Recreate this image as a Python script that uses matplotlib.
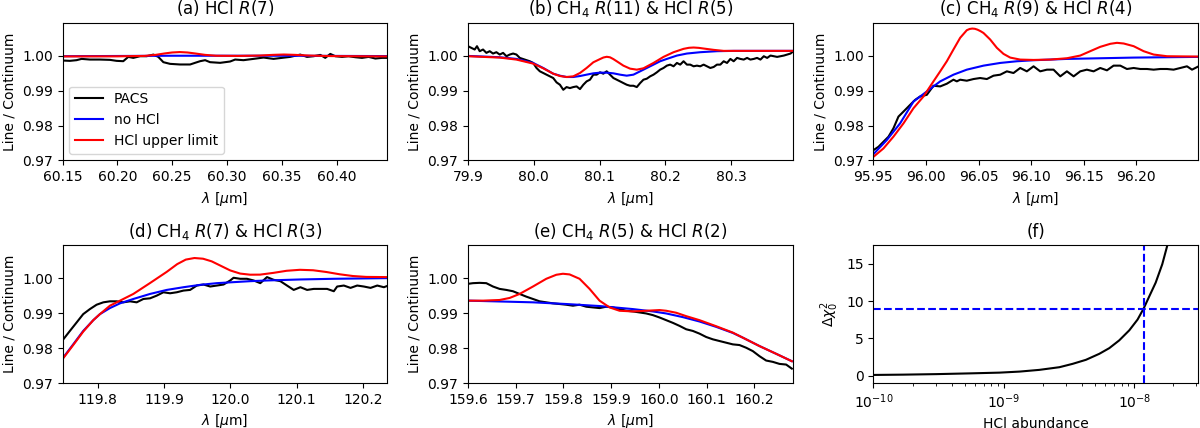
import numpy as np
import matplotlib
matplotlib.use('Agg')
import matplotlib.pyplot as plt
from matplotlib.ticker import FormatStrFormatter

# ---- (a) HCl R(7)
a_pacs_x = [60.1500, 60.1567, 60.1628, 60.1674, 60.1750, 60.1841, 60.1933, 60.1993, 60.2054, 60.2100,
            60.2146, 60.2207, 60.2268, 60.2329, 60.2374, 60.2420, 60.2481, 60.2572, 60.2664, 60.2709,
            60.2755, 60.2801, 60.2846, 60.2938, 60.3029, 60.3075, 60.3151, 60.3242, 60.3334, 60.3425,
            60.3501, 60.3577, 60.3669, 60.3730, 60.3791, 60.3852, 60.3897, 60.3943, 60.3989, 60.4050,
            60.4110, 60.4171, 60.4232, 60.4293, 60.4354, 60.4415, 60.4470]
a_pacs_y = [0.99858, 0.99849, 0.99868, 0.99905, 0.99886, 0.99886, 0.99877, 0.99849, 0.99839, 0.99962,
            0.99934, 0.99981, 0.99981, 1.00028, 0.99962, 0.99811, 0.99763, 0.99745, 0.99745, 0.99792,
            0.99839, 0.99868, 0.99811, 0.99792, 0.99830, 0.99886, 0.99868, 0.99905, 0.99943, 0.99905,
            0.99934, 0.99962, 1.00028, 0.99962, 0.99981, 1.00019, 0.99934, 1.00047, 0.99981, 0.99962,
            0.99981, 0.99953, 0.99934, 0.99962, 0.99915, 0.99934, 0.99934]
a_nohcl_x = [60.15, 60.20, 60.25, 60.30, 60.35, 60.40, 60.4464]
a_nohcl_y = [0.99982, 0.99988, 0.99995, 0.99995, 0.99995, 0.99990, 0.99985]
a_hcl_x = [60.15, 60.20, 60.225, 60.235, 60.243, 60.250, 60.257, 60.264, 60.271, 60.280, 60.290,
           60.31, 60.33, 60.342, 60.352, 60.362, 60.375, 60.395, 60.42, 60.4464]
a_hcl_y = [0.99975, 0.99978, 0.9999, 1.0002, 1.0006, 1.00088, 1.0010, 1.00088, 1.0006, 1.0002, 0.99995,
           0.9999, 1.0000, 1.0002, 1.0003, 1.0002, 1.0000, 0.99985, 0.9998, 0.99975]

# ---- (b) CH4 R(11) & HCl R(5)
b_pacs_x = [79.9000, 79.9051, 79.9102, 79.9137, 79.9178, 79.9229, 79.9280, 79.9330, 79.9381, 79.9432,
            79.9483, 79.9534, 79.9585, 79.9635, 79.9686, 79.9737, 79.9788, 79.9864, 79.9940, 79.9991,
            80.0042, 80.0093, 80.0144, 80.0194, 80.0245, 80.0296, 80.0347, 80.0398, 80.0449, 80.0499,
            80.0550, 80.0601, 80.0652, 80.0703, 80.0754, 80.0804, 80.0855, 80.0906, 80.0957, 80.1008,
            80.1058, 80.1109, 80.1160, 80.1211, 80.1262, 80.1313, 80.1363, 80.1414, 80.1465, 80.1516,
            80.1567, 80.1618, 80.1668, 80.1719, 80.1770, 80.1821, 80.1872, 80.1922, 80.1973, 80.2024,
            80.2075, 80.2126, 80.2177, 80.2227, 80.2278, 80.2329, 80.2380, 80.2431, 80.2481, 80.2532,
            80.2583, 80.2634, 80.2685, 80.2736, 80.2786, 80.2837, 80.2888, 80.2939, 80.2990, 80.3040,
            80.3091, 80.3142, 80.3193, 80.3244, 80.3294, 80.3345, 80.3396, 80.3447, 80.3498, 80.3549,
            80.3600, 80.3651, 80.3701, 80.3752, 80.3803, 80.3854, 80.3905, 80.3930]
b_pacs_y = [1.00268, 1.00220, 1.00173, 1.00268, 1.00125, 1.00173, 1.00077, 1.00125, 1.00058, 1.00096,
            1.00029, 1.00077, 0.99981, 1.00029, 1.00058, 1.00029, 0.99933, 0.99885, 0.99837, 0.99789,
            0.99645, 0.99550, 0.99502, 0.99454, 0.99406, 0.99358, 0.99233, 0.99166, 0.99022, 0.99099,
            0.99070, 0.99099, 0.99118, 0.99042, 0.99166, 0.99262, 0.99310, 0.99454, 0.99454, 0.99521,
            0.99482, 0.99550, 0.99454, 0.99358, 0.99310, 0.99262, 0.99214, 0.99166, 0.99137, 0.99137,
            0.99099, 0.99214, 0.99310, 0.99339, 0.99406, 0.99454, 0.99521, 0.99597, 0.99645, 0.99712,
            0.99741, 0.99693, 0.99789, 0.99741, 0.99837, 0.99741, 0.99741, 0.99693, 0.99712, 0.99693,
            0.99741, 0.99693, 0.99645, 0.99674, 0.99741, 0.99741, 0.99837, 0.99789, 0.99904, 0.99837,
            0.99933, 0.99904, 0.99885, 0.99933, 0.99885, 0.99904, 0.99933, 0.99885, 0.99981, 0.99933,
            1.00000, 0.99981, 0.99962, 0.99981, 1.00000, 1.00029, 1.00058, 1.00096]
b_nohcl_x = [79.9000, 79.9483, 79.9737, 79.9991, 80.0144, 80.0296, 80.0398, 80.0499, 80.0601, 80.0703,
             80.0804, 80.0906, 80.1008, 80.1109, 80.1211, 80.1313, 80.1414, 80.1516, 80.1618, 80.1719,
             80.1821, 80.1922, 80.2024, 80.2177, 80.2329, 80.2532, 80.2787, 80.3041, 80.3940]
b_nohcl_y = [0.99990, 0.99952, 0.99904, 0.99789, 0.99645, 0.99482, 0.99425, 0.99387, 0.99387, 0.99415,
             0.99454, 0.99492, 0.99511, 0.99511, 0.99492, 0.99454, 0.99425, 0.99454, 0.99550, 0.99645,
             0.99741, 0.99837, 0.99904, 1.00000, 1.00058, 1.00096, 1.00125, 1.00134, 1.00134]
b_hcl_x = [79.9000, 79.9483, 79.9737, 79.9991, 80.0144, 80.0296, 80.0398, 80.0499, 80.0601, 80.0703,
           80.0804, 80.0906, 80.1008, 80.1060, 80.1110, 80.1160, 80.1210, 80.1262, 80.1363, 80.1465,
           80.1567, 80.1668, 80.1821, 80.1973, 80.2126, 80.2278, 80.2360, 80.2431, 80.2510, 80.2583,
           80.2736, 80.2888, 80.3940]
b_hcl_y = [0.99981, 0.99942, 0.99885, 0.99770, 0.99636, 0.99482, 0.99415, 0.99387, 0.99406, 0.99502,
           0.99645, 0.99808, 0.99900, 0.99945, 0.99965, 0.99950, 0.99900, 0.99837, 0.99712, 0.99626,
           0.99597, 0.99636, 0.99789, 0.99962, 1.00096, 1.00192, 1.00222, 1.00230, 1.00220, 1.00201,
           1.00163, 1.00134, 1.00134]

# ---- (c) CH4 R(9) & HCl R(4)
c_pacs_x = [95.9500, 95.9548, 95.9595, 95.9643, 95.9690, 95.9738, 95.9786, 95.9849, 95.9897, 95.9944,
            96.0008, 96.0071, 96.0135, 96.0198, 96.0261, 96.0293, 96.0325, 96.0388, 96.0452, 96.0515,
            96.0579, 96.0642, 96.0706, 96.0769, 96.0832, 96.0896, 96.0959, 96.1023, 96.1086, 96.1150,
            96.1213, 96.1277, 96.1340, 96.1404, 96.1467, 96.1530, 96.1594, 96.1657, 96.1721, 96.1784,
            96.1848, 96.1911, 96.1975, 96.2038, 96.2102, 96.2165, 96.2228, 96.2292, 96.2355, 96.2419,
            96.2482, 96.2530, 96.2593]
c_pacs_y = [0.97296, 0.97392, 0.97536, 0.97680, 0.97919, 0.98255, 0.98399, 0.98591, 0.98734, 0.98830,
            0.98878, 0.99137, 0.99118, 0.99195, 0.99310, 0.99262, 0.99310, 0.99281, 0.99329, 0.99358,
            0.99329, 0.99425, 0.99453, 0.99549, 0.99501, 0.99645, 0.99549, 0.99693, 0.99549, 0.99597,
            0.99597, 0.99406, 0.99549, 0.99406, 0.99549, 0.99597, 0.99549, 0.99645, 0.99578, 0.99712,
            0.99712, 0.99616, 0.99645, 0.99616, 0.99616, 0.99597, 0.99616, 0.99616, 0.99597, 0.99645,
            0.99693, 0.99597, 0.99693]
c_nohcl_x = [95.9500, 95.9627, 95.9754, 95.9881, 96.0008, 96.0071, 96.0135, 96.0261, 96.0388, 96.0547,
             96.0706, 96.0864, 96.1023, 96.1181, 96.1340, 96.1657, 96.1975, 96.2593]
c_nohcl_y = [0.97181, 0.97584, 0.98063, 0.98686, 0.98974, 0.99118, 0.99262, 0.99453, 0.99597, 0.99712,
             0.99789, 0.99837, 0.99866, 0.99885, 0.99904, 0.99923, 0.99942, 0.99962]
c_hcl_x = [95.9500, 95.9595, 95.9690, 95.9786, 95.9881, 95.9976, 96.0071, 96.0135, 96.0198, 96.0261,
           96.0325, 96.0388, 96.0415, 96.0440, 96.0465, 96.0490, 96.0520, 96.0547, 96.0610, 96.0674,
           96.0737, 96.0801, 96.0896, 96.1023, 96.1181, 96.1340, 96.1467, 96.1562, 96.1657, 96.1753,
           96.1816, 96.1880, 96.1975, 96.2070, 96.2165, 96.2292, 96.2593]
c_hcl_y = [0.97105, 0.97344, 0.97680, 0.98063, 0.98495, 0.98830, 0.99262, 0.99549, 0.99837, 1.00173,
           1.00508, 1.00725, 1.00760, 1.00772, 1.00765, 1.00740, 1.00695, 1.00645, 1.00460, 1.00221,
           1.00048, 0.99942, 0.99885, 0.99875, 0.99885, 0.99923, 1.00000, 1.00125, 1.00249, 1.00336,
           1.00364, 1.00345, 1.00268, 1.00125, 1.00029, 0.99981, 0.99971]

# ---- (d) CH4 R(7) & HCl R(3)
d_pacs_x = [119.7471, 119.7582, 119.7683, 119.7783, 119.7884, 119.7985, 119.8086, 119.8186, 119.8287,
            119.8388, 119.8489, 119.8589, 119.8690, 119.8791, 119.8892, 119.8992, 119.9093, 119.9194,
            119.9295, 119.9395, 119.9496, 119.9597, 119.9698, 119.9798, 119.9899, 120.0000, 120.0050,
            120.0151, 120.0252, 120.0353, 120.0453, 120.0554, 120.0655, 120.0756, 120.0856, 120.0957,
            120.1058, 120.1159, 120.1259, 120.1360, 120.1461, 120.1562, 120.1612, 120.1713, 120.1814,
            120.1914, 120.2015, 120.2116, 120.2217, 120.2317, 120.2383]
d_pacs_y = [0.98221, 0.98490, 0.98731, 0.98971, 0.99115, 0.99240, 0.99308, 0.99337, 0.99337,
            0.99308, 0.99337, 0.99308, 0.99404, 0.99423, 0.99500, 0.99596, 0.99567, 0.99596,
            0.99644, 0.99663, 0.99788, 0.99817, 0.99760, 0.99788, 0.99817, 0.99933, 1.00010,
            0.99981, 0.99981, 0.99933, 0.99856, 1.00029, 0.99952, 0.99913, 0.99788, 0.99663,
            0.99740, 0.99663, 0.99692, 0.99692, 0.99692, 0.99625, 0.99760, 0.99788, 0.99721,
            0.99788, 0.99760, 0.99721, 0.99788, 0.99740, 0.99788]
d_nohcl_x = [119.7471, 119.7632, 119.7783, 119.7935, 119.8035, 119.8186, 119.8338, 119.8539, 119.8791,
             119.9043, 119.9295, 119.9547, 119.9798, 120.0050, 120.0302, 120.0554, 120.1058, 120.1562,
             120.2383]
d_nohcl_y = [0.97702, 0.98106, 0.98490, 0.98798, 0.98971, 0.99144, 0.99279, 0.99404, 0.99548,
             0.99663, 0.99740, 0.99808, 0.99856, 0.99885, 0.99913, 0.99933, 0.99962, 0.99981,
             1.00000]
d_hcl_x = [119.7471, 119.7632, 119.7783, 119.7935, 119.8035, 119.8186, 119.8338, 119.8539, 119.8791,
           119.9043, 119.9200, 119.9330, 119.9460, 119.9590, 119.9720, 119.9860, 120.0000, 120.0150,
           120.0300, 120.0450, 120.0650, 120.0850, 120.1050, 120.1250, 120.1450, 120.1650, 120.1850,
           120.2050, 120.2383]
d_hcl_y = [0.97683, 0.98087, 0.98471, 0.98798, 0.98971, 0.99212, 0.99356, 0.99548, 0.99860,
           1.00180, 1.00400, 1.00530, 1.00575, 1.00555, 1.00480, 1.00350, 1.00220, 1.00130,
           1.00098, 1.00100, 1.00150, 1.00210, 1.00238, 1.00225, 1.00175, 1.00110, 1.00060,
           1.00035, 1.00029]

# ---- (e) CH4 R(5) & HCl R(2)
e_pacs_x = [159.6000, 159.6105, 159.6244, 159.6384, 159.6524, 159.6663, 159.6803, 159.6943, 159.7082,
            159.7222, 159.7362, 159.7501, 159.7641, 159.7781, 159.7920, 159.8060, 159.8200, 159.8339,
            159.8479, 159.8619, 159.8758, 159.8898, 159.9038, 159.9177, 159.9317, 159.9457, 159.9596,
            159.9736, 159.9876, 160.0015, 160.0155, 160.0295, 160.0434, 160.0574, 160.0714, 160.0853,
            160.0993, 160.1133, 160.1272, 160.1412, 160.1552, 160.1691, 160.1831, 160.1971, 160.2110,
            160.2250, 160.2390, 160.2529, 160.2669, 160.2788]
e_pacs_y = [0.99837, 0.99856, 0.99865, 0.99856, 0.99760, 0.99692, 0.99663, 0.99625, 0.99548,
            0.99471, 0.99404, 0.99337, 0.99308, 0.99279, 0.99260, 0.99240, 0.99212, 0.99240,
            0.99183, 0.99163, 0.99144, 0.99183, 0.99163, 0.99115, 0.99067, 0.99048, 0.99019,
            0.98990, 0.98942, 0.98875, 0.98798, 0.98721, 0.98635, 0.98538, 0.98490, 0.98413,
            0.98317, 0.98250, 0.98202, 0.98154, 0.98106, 0.98087, 0.98010, 0.97913, 0.97769,
            0.97644, 0.97606, 0.97548, 0.97529, 0.97413]
e_nohcl_x = [159.6000, 159.7362, 159.8060, 159.8758, 159.9457, 159.9876, 160.0155, 160.0504, 160.0853,
             160.1203, 160.1552, 160.1761, 160.2110, 160.2459, 160.2788]
e_nohcl_y = [0.99356, 0.99308, 0.99260, 0.99202, 0.99115, 0.99048, 0.98990, 0.98885, 0.98760,
             0.98606, 0.98433, 0.98298, 0.98058, 0.97837, 0.97625]
e_hcl_x = [159.6000, 159.6314, 159.6663, 159.6873, 159.7082, 159.7362, 159.7641, 159.7851, 159.7990,
           159.8130, 159.8339, 159.8549, 159.8758, 159.8968, 159.9177, 159.9457, 159.9736, 160.0015,
           160.0155, 160.0365, 160.0574, 160.0853, 160.1203, 160.1552, 160.1761, 160.2110, 160.2459,
           160.2788]
e_hcl_y = [0.99356, 0.99356, 0.99375, 0.99433, 0.99548, 0.99760, 0.99981, 1.00096, 1.00125,
           1.00106, 0.99981, 0.99692, 0.99356, 0.99163, 0.99067, 0.99048, 0.99067, 0.99087,
           0.99067, 0.99010, 0.98913, 0.98798, 0.98625, 0.98442, 0.98298, 0.98058, 0.97837,
           0.97625]

# ---- (f) delta chi^2 vs abundance
f_abund = [1.00e-10, 1.69e-10, 3.05e-10, 5.48e-10, 9.27e-10, 1.32e-9, 1.87e-9, 2.67e-9, 3.37e-9,
           4.26e-9, 5.40e-9, 6.44e-9, 7.67e-9, 9.16e-9, 1.06e-8, 1.18e-8, 1.30e-8, 1.46e-8,
           1.64e-8, 1.79e-8, 1.95e-8]
f_dchi2 = [0.09, 0.13, 0.20, 0.30, 0.40, 0.54, 0.77, 1.13, 1.58,
           2.12, 2.93, 3.69, 4.73, 6.08, 7.52, 9.00, 10.59, 12.48,
           14.95, 17.43, 20.0]
f_limit = 1.18e-8
f_level = 9

panels = [
    ('(a) HCl $R(7)$', a_pacs_x, a_pacs_y, a_nohcl_x, a_nohcl_y, a_hcl_x, a_hcl_y,
     (60.15, 60.4464), [60.15, 60.20, 60.25, 60.30, 60.35, 60.40], '%.2f'),
    ('(b) CH$_4$ $R(11)$ & HCl $R(5)$', b_pacs_x, b_pacs_y, b_nohcl_x, b_nohcl_y, b_hcl_x, b_hcl_y,
     (79.9, 80.394), [79.9, 80.0, 80.1, 80.2, 80.3], '%.1f'),
    ('(c) CH$_4$ $R(9)$ & HCl $R(4)$', c_pacs_x, c_pacs_y, c_nohcl_x, c_nohcl_y, c_hcl_x, c_hcl_y,
     (95.95, 96.259), [95.95, 96.00, 96.05, 96.10, 96.15, 96.20], '%.2f'),
    ('(d) CH$_4$ $R(7)$ & HCl $R(3)$', d_pacs_x, d_pacs_y, d_nohcl_x, d_nohcl_y, d_hcl_x, d_hcl_y,
     (119.7471, 120.2370), [119.8, 119.9, 120.0, 120.1, 120.2], '%.1f'),
    ('(e) CH$_4$ $R(5)$ & HCl $R(2)$', e_pacs_x, e_pacs_y, e_nohcl_x, e_nohcl_y, e_hcl_x, e_hcl_y,
     (159.6, 160.281), [159.6, 159.7, 159.8, 159.9, 160.0, 160.1, 160.2], '%.1f'),
]

fig, axs = plt.subplots(2, 3, figsize=(12, 4.28), dpi=100)
fig.subplots_adjust(left=0.0521, right=0.9986, top=0.947, bottom=0.105, wspace=0.248, hspace=0.615)
axs = axs.flatten()

for ax, p in zip(axs[:5], panels):
    title, px, py, nx, ny, hx, hy, xl, xt, fmt = p
    ax.plot(px, py, color='k', lw=1.5, label='PACS')
    ax.plot(nx, ny, color='b', lw=1.5, label='no HCl')
    ax.plot(hx, hy, color='r', lw=1.5, label='HCl upper limit')
    ax.set_xlim(xl)
    ax.set_ylim(0.97, 1.0094)
    ax.set_xticks(xt)
    ax.set_yticks([0.97, 0.98, 0.99, 1.00])
    ax.xaxis.set_major_formatter(FormatStrFormatter(fmt))
    ax.yaxis.set_major_formatter(FormatStrFormatter('%.2f'))
    ax.set_xlabel(r'$\lambda$ [$\mu$m]')
    ax.set_ylabel('Line / Continuum')
    ax.set_title(title)

axs[0].legend(loc='lower left')

ax = axs[5]
ax.plot(f_abund, f_dchi2, color='k', lw=1.5)
ax.axhline(f_level, color='b', ls='--', lw=1.5)
ax.axvline(f_limit, color='b', ls='--', lw=1.5)
ax.set_xscale('log')
ax.set_xlim(1e-10, 3.1e-8)
ax.set_ylim(-1, 17.5)
ax.set_yticks([0, 5, 10, 15])
ax.set_xlabel('HCl abundance')
ax.set_ylabel(r'$\Delta\chi_0^2$')
ax.set_title('(f)')

fig.savefig('out.png', dpi=100)
